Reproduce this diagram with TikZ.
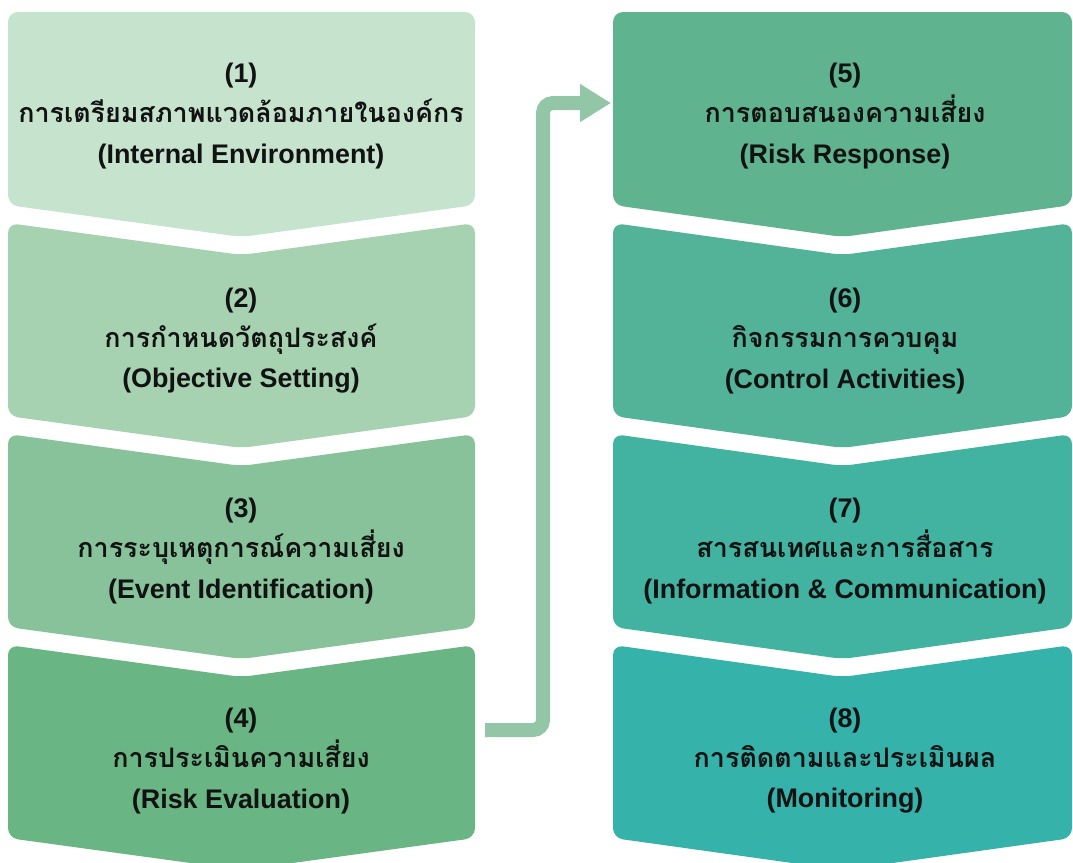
\documentclass[tikz,border=0pt]{standalone}
\usepackage{fontspec}
\setmainfont{Liberation Sans}
\newfontfamily\thaifont[Script=Thai]{Loma}
\usetikzlibrary{arrows.meta}

\definecolor{stepA}{HTML}{C5E3CD}
\definecolor{stepB}{HTML}{A6D2B1}
\definecolor{stepC}{HTML}{88C29A}
\definecolor{stepD}{HTML}{69B583}
\definecolor{stepE}{HTML}{5FB38E}
\definecolor{stepF}{HTML}{52B398}
\definecolor{stepG}{HTML}{42B3A1}
\definecolor{stepH}{HTML}{35B2AA}
\definecolor{flowgreen}{HTML}{93C6A6}

% chevron box: left x, right x, top y, colour
\newcommand{\chevfirst}[4]{%
  \fill[#4, rounded corners=0.2cm] (#1,#3) -- (#2,#3) -- (#2,#3+193)
    -- ({(#1+#2)/2},#3+225) -- (#1,#3+193) -- cycle;}
\newcommand{\chevnext}[4]{%
  \fill[#4, rounded corners=0.2cm] (#1,#3) -- ({(#1+#2)/2},#3+32) -- (#2,#3)
    -- (#2,#3+193) -- ({(#1+#2)/2},#3+225) -- (#1,#3+193) -- cycle;}

\begin{document}
\begin{tikzpicture}[x=0.02cm, y=-0.02cm,
    label/.style={align=center, text=black!93, font=\bfseries\fontsize{15.3}{22.8}\selectfont},
    flow/.style={flowgreen, line width=0.28cm, rounded corners=0.2cm,
      -{Triangle[length=0.62cm, width=0.72cm]}}]
        \useasboundingbox (0,0) rectangle (1073,863);

        \chevfirst{8}{475}{12}{stepA}
        \chevnext{8}{475}{223}{stepB}
        \chevnext{8}{475}{434}{stepC}
        \chevnext{8}{475}{645}{stepD}

        \chevfirst{613}{1072}{12}{stepE}
        \chevnext{613}{1072}{223}{stepF}
        \chevnext{613}{1072}{434}{stepG}
        \chevnext{613}{1072}{645}{stepH}

        \node[label] at (241,116) (s1) {(1)\\{\thaifont การเตรียมสภาพแวดล้อมภายในองค์กร}\\(Internal Environment)};
        \node[label] at (241,341) (s2) {(2)\\{\thaifont การกำหนดวัตถุประสงค์}\\(Objective Setting)};
        \node[label] at (241,551) (s3) {(3)\\{\thaifont การระบุเหตุการณ์ความเสี่ยง}\\(Event Identification)};
        \node[label] at (241,761) (s4) {(4)\\{\thaifont การประเมินความเสี่ยง}\\(Risk Evaluation)};

        \node[label] at (845,116) (s5) {(5)\\{\thaifont การตอบสนองความเสี่ยง}\\(Risk Response)};
        \node[label] at (845,341) (s6) {(6)\\{\thaifont กิจกรรมการควบคุม}\\(Control Activities)};
        \node[label] at (845,551) (s7) {(7)\\{\thaifont สารสนเทศและการสื่อสาร}\\(Information \& Communication)};
        \node[label] at (845,761) (s8) {(8)\\{\thaifont การติดตามและประเมินผล}\\(Monitoring)};

        \coordinate (out4) at (485,730);
        \coordinate (in5) at (611,103);
        \draw[flow] (out4) -- ++(58,0) |- (in5);

    \end{tikzpicture}
\end{document}
